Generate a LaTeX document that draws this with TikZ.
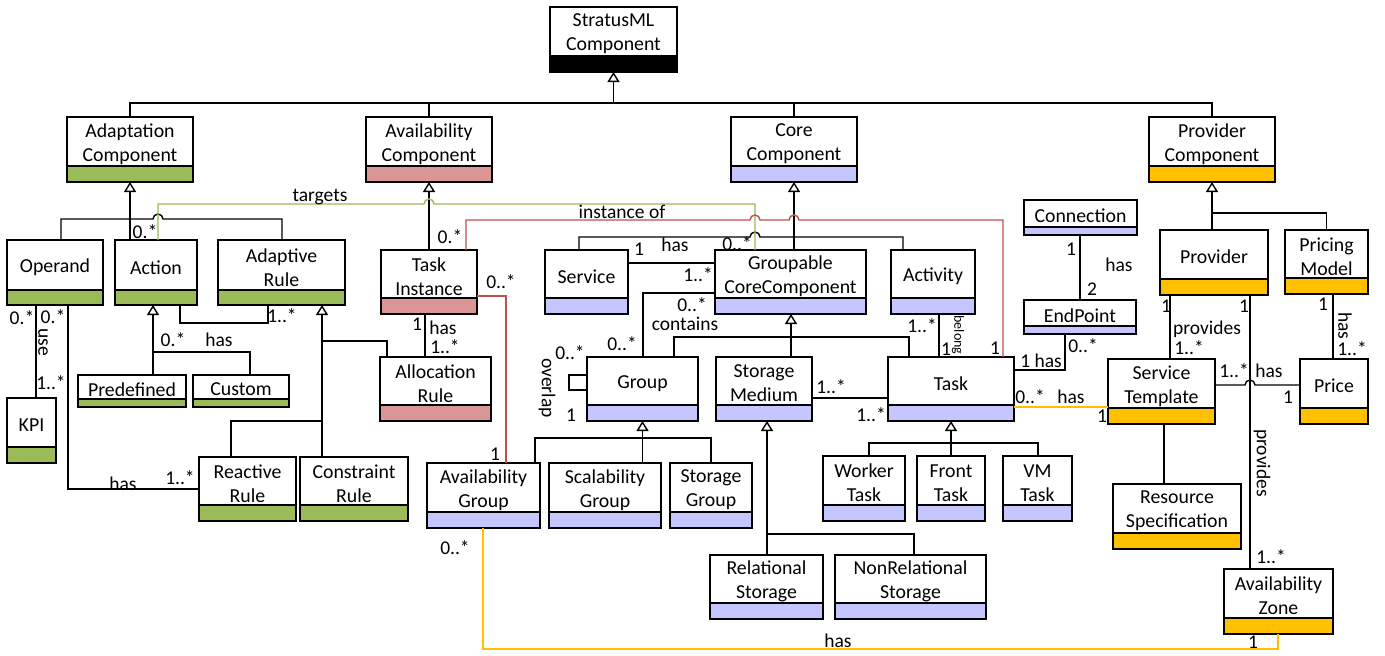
\documentclass[tikz,border=0pt]{standalone}
\usepackage{fontspec}
\setmainfont{Carlito}
\usetikzlibrary{arrows.meta}
\definecolor{cgreen}{HTML}{9BBB59}
\definecolor{cpink}{HTML}{D99694}
\definecolor{cblue}{HTML}{C6C6FF}
\definecolor{cyellow}{HTML}{FFC000}
\definecolor{cred}{HTML}{C0504D}
\newcount\lblc
% name, x1, y1, x2, y2, bar top, colour, text
\newcommand\umlcls[8]{%
  \fill[#7] (#2,#6) rectangle (#4,#5);
  \node[clsbox, minimum width={#4-#2}, minimum height={#5-#3}] (#1) at ({(#2+#4)/2},{(#3+#5)/2}) {};
  \draw[boxline] (#2,#6) -- (#4,#6);
  \node[clstext] (#1-t) at ({(#2+#4)/2},{(#3+#6)/2+2.5}) {#8};
}
\newcommand\lbl[3][]{\global\advance\lblc by 1\relax\node[lbl,#1] (lbl\the\lblc) at (#2) {#3};}
\tikzset{
  clsbox/.style={draw, line width=1.7pt, inner sep=0pt, outer sep=0pt},
  boxline/.style={line width=1.7pt},
  clstext/.style={font=\fontsize{19.8}{24}\selectfont, align=center, inner sep=0pt},
  lbl/.style={font=\fontsize{19.5}{23}\selectfont, inner sep=0pt},
  conn/.style={line width=1.4pt, black},
  gen/.style={conn, -{Triangle[open, length=10pt, width=12pt]}},
  greenln/.style={line width=1.4pt, cgreen},
  redln/.style={line width=1.4pt, cred},
  yelln/.style={line width=1.4pt, cyellow}
}
\begin{document}
\begin{tikzpicture}[x=1pt,y=-1pt]
\fill[white] (0,0) rectangle (1385,656);
\useasboundingbox (0,0) rectangle (1385,656);

% ---------- classes ----------
\umlcls{Stratus}{550}{7}{677}{72}{56}{black}{StratusML\\Component}
\umlcls{AdaptComp}{67}{117}{193}{182}{166}{cgreen}{Adaptation\\Component}
\umlcls{AvailComp}{366}{117}{492}{182}{166}{cpink}{Availability\\Component}
\umlcls{CoreComp}{731}{117}{857}{182}{166}{cblue}{Core\\Component}
\umlcls{ProvComp}{1149}{117}{1275}{182}{166}{cyellow}{Provider\\Component}
\umlcls{Operand}{7}{240}{103}{305}{290}{cgreen}{Operand}
\umlcls{Action}{115}{240}{197}{305}{290}{cgreen}{Action}
\umlcls{AdaptiveRule}{218}{240}{345}{305}{290}{cgreen}{Adaptive\\Rule}
\umlcls{Predefined}{78}{375}{186}{407}{399}{cgreen}{Predefined}
\umlcls{Custom}{193}{375}{289}{407}{399}{cgreen}{Custom}
\umlcls{KPI}{7}{398}{56}{463}{447}{cgreen}{KPI}
\umlcls{ReactiveRule}{199}{457}{296}{521}{505}{cgreen}{Reactive\\Rule}
\umlcls{ConstraintRule}{300}{457}{408}{521}{505}{cgreen}{Constraint\\Rule}
\umlcls{TaskInstance}{381}{250}{477}{314}{298}{cpink}{Task\\Instance}
\umlcls{AllocRule}{380}{357}{491}{421}{405}{cpink}{Allocation\\Rule}
\umlcls{Service}{545}{250}{628}{314}{298}{cblue}{Service}
\umlcls{Groupable}{715}{250}{866}{314}{298}{cblue}{Groupable\\CoreComponent}
\umlcls{Activity}{891}{250}{975}{314}{298}{cblue}{Activity}
\umlcls{Group}{587}{357}{698}{421}{405}{cblue}{Group}
\umlcls{StorageMedium}{716}{357}{812}{421}{405}{cblue}{Storage\\Medium}
\umlcls{Task}{888}{357}{1014}{421}{405}{cblue}{Task}
\umlcls{AG}{427}{463}{540}{528}{512}{cblue}{Availability\\Group}
\umlcls{ScalGroup}{549}{463}{661}{528}{512}{cblue}{Scalability\\Group}
\umlcls{StorGroup}{670}{463}{752}{528}{512}{cblue}{Storage\\Group}
\umlcls{Relational}{710}{555}{823}{619}{603}{cblue}{Relational\\Storage}
\umlcls{NonRelational}{835}{555}{986}{619}{603}{cblue}{NonRelational\\Storage}
\umlcls{WorkerTask}{823}{456}{905}{521}{505}{cblue}{Worker\\Task}
\umlcls{FrontTask}{917}{456}{985}{521}{505}{cblue}{Front\\Task}
\umlcls{VMTask}{1003}{456}{1072}{521}{505}{cblue}{VM\\Task}
\umlcls{Connection}{1024}{200}{1137}{235}{227}{cblue}{Connection}
\umlcls{EndPoint}{1024}{300}{1136}{334}{326}{cblue}{EndPoint}
\umlcls{Provider}{1160}{230}{1268}{295}{279}{cyellow}{Provider}
\umlcls{PricingModel}{1285}{230}{1368}{294}{278}{cyellow}{Pricing\\Model}
\umlcls{ServiceTemplate}{1108}{359}{1215}{424}{408}{cyellow}{Service\\Template}
\umlcls{Price}{1300}{359}{1368}{424}{408}{cyellow}{Price}
\umlcls{ResourceSpec}{1113}{484}{1241}{549}{533}{cyellow}{Resource\\Specification}
\umlcls{AZ}{1224}{569}{1333}{634}{618}{cyellow}{Availability\\Zone}

% ---------- generalisations ----------
\draw[gen] (Stratus.south |- 0,103) -- (Stratus.south);
\draw[conn] (AdaptComp.north) -- (AdaptComp.north |- 0,103) -- (ProvComp.north |- 0,103) -- (ProvComp.north);
\draw[conn] (AvailComp.north) -- (AvailComp.north |- 0,103);
\draw[conn] (CoreComp.north) -- (CoreComp.north |- 0,103);

\draw[gen] (Action.north -| AdaptComp.south) -- (AdaptComp.south);
\draw[conn] (Operand.north -| 61,0) -- (61,219) -- (153,219) arc[start angle=180,end angle=0,radius=5pt] -- (282,219) -- (AdaptiveRule.north -| 282,0);

\draw[gen] (TaskInstance.north) -- (AvailComp.south);

\draw[gen] (Groupable.north -| CoreComp.south) -- (CoreComp.south);
\draw[conn] (Service.north -| 579,0) -- (579,237) -- (750,237) arc[start angle=180,end angle=0,radius=5pt] -- (903,237) -- (Activity.north -| 903,0);

\draw[gen] (StorageMedium.north -| 791,0) -- (Groupable.south -| 791,0);
\draw[conn] (Group.north -| 674,0) |- (909,337) -- (Task.north -| 909,0);

\draw[gen] (ScalGroup.north -| Group.south) -- (Group.south);
\draw[conn] (AG.north -| 535,0) |- (711,438) -- (StorGroup.north -| 711,0);

\draw[gen] (Relational.north -| 767,0) -- (StorageMedium.south -| 767,0);
\draw[conn] (767,534) -| (NonRelational.north -| 914,0);

\draw[gen] (FrontTask.north -| Task.south) -- (Task.south);
\draw[conn] (WorkerTask.north -| 869,0) |- (1038,443) -- (VMTask.north -| 1038,0);

\draw[gen] (Provider.north -| ProvComp.south) -- (ProvComp.south);
\draw[conn] (ProvComp.south |- 0,213) -| (PricingModel.north);

\draw[gen] (Predefined.north -| 153,0) -- (Action.south -| 153,0);
\draw[conn] (153,352) -| (Custom.north -| 250,0);

\draw[gen] (ConstraintRule.north -| 322,0) -- (AdaptiveRule.south -| 322,0);
\draw[conn] (322,341) -| (AllocRule.north -| 387,0);
\draw[conn] (322,421) -| (ReactiveRule.north -| 231,0);

% ---------- associations ----------
\draw[conn] (Operand.south -| 36,0) -- (KPI.north -| 36,0);
\draw[conn] (Operand.south -| 68,0) |- (ReactiveRule.west);
\draw[conn] (Action.south -| 180,0) -- (180,323) -| (AdaptiveRule.south -| 268,0);
\draw[conn] (TaskInstance.south -| 425,0) -- (AllocRule.north -| 425,0);
\draw[conn] (Service.east |- 0,263) -- (Groupable.west |- 0,263);
\draw[conn] (Group.north -| 643,0) |- (Groupable.west |- 0,293);
\draw[conn] (Group.west |- 0,375) -- (569,375) -- (569,390) -- (Group.west |- 0,390);
\draw[conn] (StorageMedium.east |- 0,398) -- (Task.west |- 0,398);
\draw[conn] (Activity.south -| 939,0) -- (Task.north -| 939,0);
\draw[conn] (Task.east |- 0,370) -| (EndPoint.south -| 1065,0);
\draw[conn] (Connection.south -| 1080,0) -- (EndPoint.north -| 1080,0);
\draw[conn] (Provider.south -| 1170,0) -- (ServiceTemplate.north -| 1170,0);
\draw[conn] (Provider.south -| 1250,0) -- (AZ.north -| 1250,0);
\draw[conn] (PricingModel.south -| 1333,0) -- (Price.north -| 1333,0);
\draw[conn] (ServiceTemplate.east |- 0,385) -- (1245,385) arc[start angle=180,end angle=0,radius=5pt] -- (Price.west |- 0,385);
\draw[conn] (ServiceTemplate.south -| 1164,0) -- (ResourceSpec.north -| 1164,0);

% ---------- coloured associations ----------
\draw[greenln] (Action.north -| 158,0) -- (158,204) -- (424,204) arc[start angle=180,end angle=0,radius=5pt] -- (755,204) -- (Groupable.north -| 755,0);
\draw[redln] (TaskInstance.north -| 466,0) -- (466,220) -- (750,220) arc[start angle=180,end angle=0,radius=5pt] -- (789,220) arc[start angle=180,end angle=0,radius=5pt] -- (1003,220) -- (Task.north -| 1003,0);
\draw[redln] (TaskInstance.east |- 0,296) -| (AG.north -| 506,0);
\draw[yelln] (Task.east |- 0,407) -- (ServiceTemplate.west |- 0,407);
\draw[yelln] (AG.south -| 483,0) -- (483,649) -| (AZ.south -| 1278,0);

% ---------- labels ----------
\lbl{320,197}{targets}
\lbl{145,232}{0.*}
\lbl{622,212}{instance of}
\lbl{450,237}{0.*}
\lbl{501,282}{0..*}
\lbl{417,324}{1}
\lbl{443,328}{has}
\lbl{445,347}{1..*}
\lbl{639,249}{1}
\lbl{675,245}{has}
\lbl{737,244}{0..*}
\lbl{698,275}{1..*}
\lbl{692,305}{0..*}
\lbl{685,324}{contains}
\lbl{622,344}{0..*}
\lbl{570,353}{0..*}
\lbl[rotate=-90]{547,388}{overlap}
\lbl{571,415}{1}
\lbl{831,387}{1..*}
\lbl{871,415}{1..*}
\lbl{922,326}{1..*}
\lbl{946,349}{1}
\lbl[rotate=-90,font=\fontsize{14}{16}\selectfont]{958,335}{belong}
\lbl{995,348}{1}
\lbl{1041,361}{1 has}
\lbl{1083,346}{0..*}
\lbl{1030,397}{0..*}
\lbl{1071,397}{has}
\lbl{1102,416}{1}
\lbl{1071,249}{1}
\lbl{1119,265}{has}
\lbl{1092,289}{2}
\lbl{1166,306}{1}
\lbl{1207,329}{provides}
\lbl{1189,348}{1..*}
\lbl{1244,306}{1}
\lbl{1323,304}{1}
\lbl[rotate=-90]{1345,326}{has}
\lbl{1352,349}{1..*}
\lbl{1234,371}{1..*}
\lbl{1269,371}{has}
\lbl{1288,397}{1}
\lbl[rotate=-90]{1262,463}{provides}
\lbl{1271,557}{1..*}
\lbl{1253,642}{1}
\lbl{838,641}{has}
\lbl{455,548}{0..*}
\lbl{495,454}{1}
\lbl{22,318}{0.*}
\lbl{53,317}{0.*}
\lbl[rotate=-90]{43,342}{use}
\lbl{51,383}{1..*}
\lbl{282,316}{1..*}
\lbl{173,340}{0.*}
\lbl{219,340}{has}
\lbl{123,484}{has}
\lbl{180,478}{1..*}
\end{tikzpicture}
\end{document}
